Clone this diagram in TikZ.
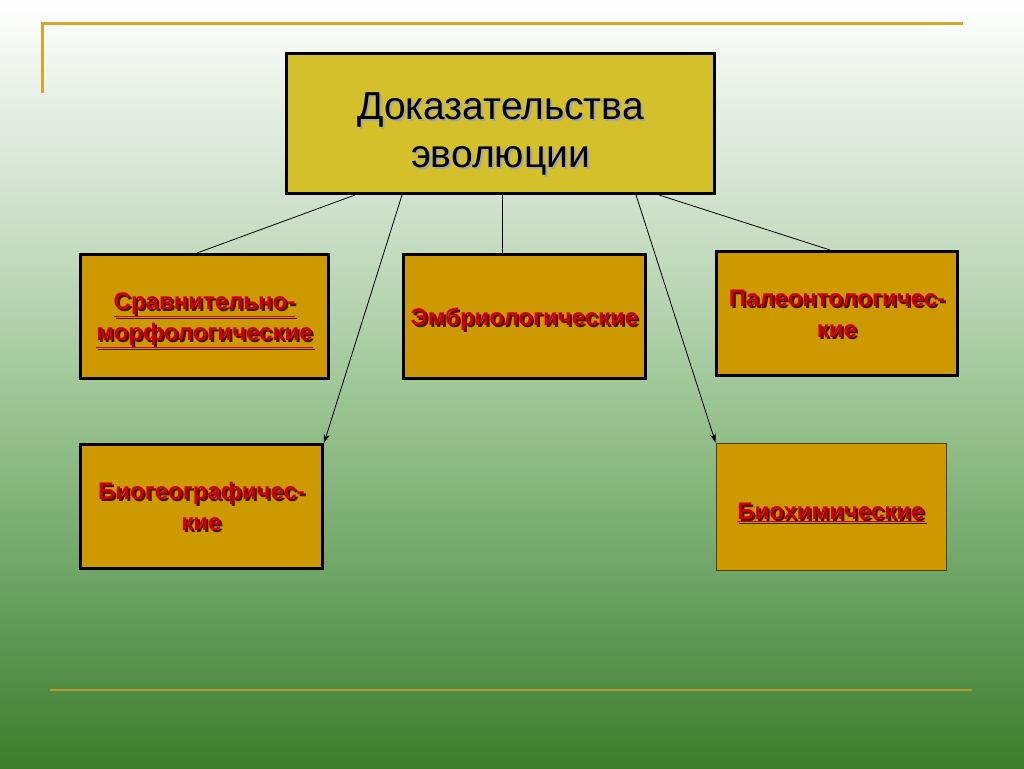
\documentclass[tikz,border=0pt]{standalone}
\usepackage{fontspec}
\setmainfont{Liberation Sans}
\usetikzlibrary{arrows.meta}

\definecolor{bgbot}{HTML}{3C7D2C}
\definecolor{bgmid}{HTML}{68A060}
\definecolor{bglight}{HTML}{9CC594}
\definecolor{bgpale}{HTML}{C6DCC2}
\definecolor{bgtop}{HTML}{E6EEE4}
\definecolor{goldline}{HTML}{D4A72C}
\definecolor{mainfill}{HTML}{D4C02A}
\definecolor{boxfill}{HTML}{CC9900}
\definecolor{redtext}{HTML}{CC0000}
\definecolor{redshadow}{HTML}{4A1000}

\pgfdeclareverticalshading{slidebg}{100bp}{color(0bp)=(bgbot); color(25bp)=(bgbot); color(36bp)=(bgmid); color(49bp)=(bglight); color(59bp)=(bgpale); color(68bp)=(bgtop); color(75bp)=(white); color(100bp)=(white)}

% text with a small drop shadow
\newcommand\shtxt[2]{\leavevmode\rlap{\kern2pt\raisebox{-2pt}{\color{#1}#2}}#2}

\tikzset{
  mainbox/.style={draw=black, line width=3pt, fill=mainfill, minimum width=428pt, minimum height=140pt,
    align=center, font=\fontsize{39}{48}\selectfont, text=black, text depth=0pt, text height=88pt},
  evbox/.style={draw=black, line width=3pt, fill=boxfill, minimum height=124pt,
    align=center, font=\bfseries\fontsize{24}{31}\selectfont, text=redtext, text depth=0pt},
  link/.style={draw=black, line width=0.8pt},
  arrowlink/.style={link, -{Stealth[length=9pt,width=6pt]}}
}

\begin{document}
\begin{tikzpicture}[x=1pt, y=-1pt]
% background
\shade[shading=slidebg] (0,0) rectangle (1024,768);
\useasboundingbox (0,0) rectangle (1024,768);
\draw[goldline, line width=3pt] (42,93) -- (42,24) -- (963,24);
\draw[goldline!90!black, line width=2.5pt] (50,690) -- (972,690);

% main box
\node[mainbox] (main) at (500.5,123.5) {\shtxt{black!35}{Доказательства}\\\shtxt{black!35}{эволюции}};

% evidence boxes
\node[evbox, minimum width=248pt] (morph) at (204.5,316.5)
  {\shtxt{redshadow}{\underline{Сравнительно-}}\\\shtxt{redshadow}{\underline{морфологические}}};
\node[evbox, minimum width=242pt] (embryo) at (524.5,316.5) {\shtxt{redshadow}{Эмбриологические}};
\node[evbox, minimum width=241pt] (paleo) at (837,313.5)
  {\shtxt{redshadow}{Палеонтологичес-}\\\shtxt{redshadow}{кие}};
\node[evbox, minimum width=242pt] (biogeo) at (201.5,506.5)
  {\shtxt{redshadow}{Биогеографичес-}\\\shtxt{redshadow}{кие}};
\node[evbox, minimum width=230pt, minimum height=127pt, line width=0.8pt, draw=black!60!boxfill, text height=26pt] (biochem) at (831,506.5)
  {\shtxt{redshadow}{\underline{Биохимические}}};

% connectors
\draw[link] ([xshift=-145.5pt]main.south) -- ([xshift=-7.5pt]morph.north);
\draw[arrowlink] ([xshift=-98.5pt]main.south) -- (biogeo.north east);
\draw[link] ([xshift=1.5pt]main.south) -- ([xshift=-22.5pt]embryo.north);
\draw[arrowlink] ([xshift=135.5pt]main.south) -- (biochem.north west);
\draw[link] ([xshift=158.5pt]main.south) -- ([xshift=-7pt]paleo.north);
\end{tikzpicture}
\end{document}
